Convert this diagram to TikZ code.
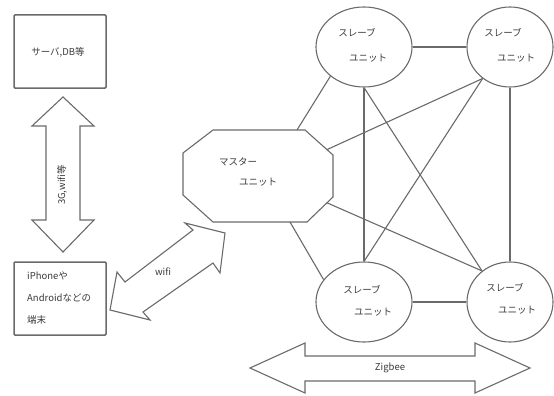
\documentclass[tikz,border=0pt]{standalone}
\usepackage{fontspec}
\setmainfont{Noto Sans CJK JP}
\usetikzlibrary{shapes.geometric}
\definecolor{ln}{HTML}{6A6A6A}
\definecolor{tx}{HTML}{3A3A3A}
\tikzset{
  edge/.style={draw=ln, line width=1.1pt},
  boxshape/.style={draw=ln, line width=1.5pt, rounded corners=1pt},
  fatarrow/.style={draw=ln, line width=1.1pt, line join=miter},
  slave/.style={ellipse, draw=ln, line width=1.1pt, inner sep=0pt, minimum width=96pt, minimum height=80pt},
  slaveR/.style={slave, minimum width=86pt},
  lbl/.style={text=tx, font=\fontsize{9.5}{11}\selectfont, inner sep=0pt},
}
\begin{document}
\begin{tikzpicture}[x=1pt,y=-1pt]
\useasboundingbox (0,0) rectangle (554,396);

% server box
\draw[boxshape] (14,15) rectangle (106,88);
\node[lbl] (srv) at (58,52) {サーバ,DB等};

% phone box
\draw[boxshape] (14,262) rectangle (106,335);
\node[lbl, anchor=west] (ph1) at (27,276) {iPhoneや};
\node[lbl, anchor=west] (ph2) at (27,298) {Androidなどの};
\node[lbl, anchor=west] (ph3) at (27,320) {端末};

% vertical double arrow
\draw[fatarrow] (63,97) -- (94,126) -- (80,126) -- (80,220) -- (94,220) -- (63,252)
  -- (32,220) -- (46,220) -- (46,126) -- (32,126) -- cycle;
\node[lbl, rotate=90] (g3) at (62,185) {3G,wifi等};

% wifi double arrow
\draw[fatarrow] (110,310) -- (117,272) -- (125,282) -- (193,230) -- (185,223) -- (225,233)
  -- (220,273) -- (213,263) -- (143,312) -- (150,320) -- cycle;
\node[lbl] (wf) at (163,272) {wifi};

% zigbee double arrow
\draw[fatarrow] (250,368) -- (305,343) -- (305,356) -- (475,356) -- (475,343) -- (530,368)
  -- (475,393) -- (475,381) -- (305,381) -- (305,393) -- cycle;
\node[lbl] (zb) at (390,368) {Zigbee};

% master octagon
\draw[edge, line join=miter] (213,130) -- (305,130) -- (333,155) -- (333,197) -- (307,222)
  -- (213,222) -- (183,195) -- (183,153) -- cycle;
\node[lbl] (ma1) at (238,162) {マスター};
\node[lbl] (ma2) at (258,182) {ユニット};
\coordinate (m1) at (297,130);
\coordinate (m2) at (327,149.6);
\coordinate (m3) at (327,202.8);
\coordinate (m4) at (290,222);

% slaves
\node[slave]  (S1) at (364,47)  {};
\node[slaveR] (S2) at (510,47)  {};
\node[slave]  (S3) at (364,302) {};
\node[slaveR] (S4) at (510,302) {};
\node[lbl] at (357,33)  {スレーブ};
\node[lbl] at (368,58)  {ユニット};
\node[lbl] at (503,33)  {スレーブ};
\node[lbl] at (516,58)  {ユニット};
\node[lbl] at (362,290) {スレーブ};
\node[lbl] at (373,312) {ユニット};
\node[lbl] at (505,288) {スレーブ};
\node[lbl] at (517,310) {ユニット};

% connectors
\draw[edge] (S1.east) -- (S2.west);
\draw[edge] (S3.east) -- (S4.west);
\draw[edge] (S1.south) -- (S3.north);
\draw[edge] (S2.south) -- (S4.north);
\draw[edge] (S1.south) -- (S4.132);
\draw[edge] (S2.229) -- (S3.north);
\draw[edge] (m1) -- (S1.221);
\draw[edge] (m2) -- (S2.229);
\draw[edge] (m3) -- (S4.132);
\draw[edge] (m4) -- (S3.151);
\end{tikzpicture}
\end{document}
